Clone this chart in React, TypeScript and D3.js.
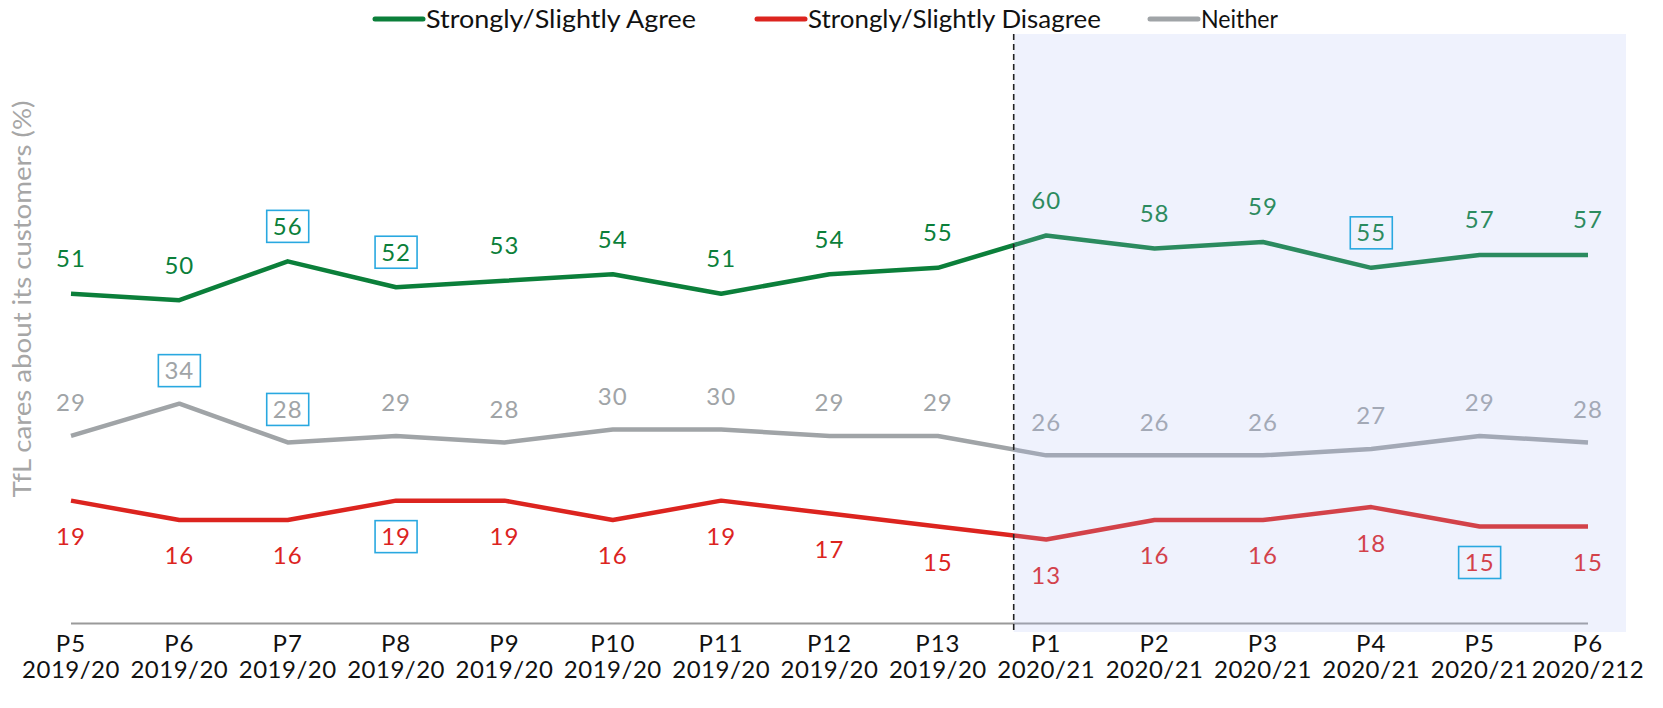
import React from "react";
import * as d3 from "d3";

const periods = ["P5", "P6", "P7", "P8", "P9", "P10", "P11", "P12", "P13", "P1", "P2", "P3", "P4", "P5", "P6"];
const years = [
  "2019/20", "2019/20", "2019/20", "2019/20", "2019/20", "2019/20", "2019/20", "2019/20", "2019/20",
  "2020/21", "2020/21", "2020/21", "2020/21", "2020/21", "2020/212",
];
const agree = [51, 50, 56, 52, 53, 54, 51, 54, 55, 60, 58, 59, 55, 57, 57];
const disagree = [19, 16, 16, 19, 19, 16, 19, 17, 15, 13, 16, 16, 18, 15, 15];
const neither = [29, 34, 28, 29, 28, 30, 30, 29, 29, 26, 26, 26, 27, 29, 28];

// indexes of labels that get a blue box
const boxedAgree = [2, 3, 12];
const boxedDisagree = [3, 13];
const boxedNeither = [1, 2];

const W = 1663;
const H = 708;
const FONT = "Lato, 'Open Sans', sans-serif";

const GREEN = "#0b7f3a";
const RED = "#dc241f";
const GREY = "#a0a4a7";
const BOX = "#29a8e0";

export default function App() {
  const idx = periods.map((_, i) => i);
  const x = d3.scalePoint<number>().domain(idx).range([71, 1588]);
  const y = d3.scaleLinear().domain([0, 60]).range([623.5, 235.5]);
  const step = x.step();
  const splitX = x(8)! + step * 0.7;

  const line = d3
    .line<number>()
    .x((_, i) => x(i)!)
    .y((d) => y(d));

  const series = [
    { name: "Strongly/Slightly Agree", values: agree, color: GREEN, dy: -35, boxed: boxedAgree, lx: 373, len: 270 },
    { name: "Strongly/Slightly Disagree", values: disagree, color: RED, dy: 36, boxed: boxedDisagree, lx: 755, len: 293 },
    { name: "Neither", values: neither, color: GREY, dy: -33, boxed: boxedNeither, lx: 1148, len: 77 },
  ];

  return (
    <svg width={W} height={H} style={{ position: "absolute", left: 0, top: 0 }} fontFamily={FONT}>
      <rect width={W} height={H} fill="#fff" />

      {/* legend */}
      {series.map((s) => (
        <g key={s.name} transform={`translate(${s.lx},19)`}>
          <line x1={2} x2={50} y1={0} y2={0} stroke={s.color} strokeWidth={5} strokeLinecap="round" />
          <text x={53} y={0} dy="0.35em" fontSize={25} fill="#111" textLength={s.len} lengthAdjust="spacingAndGlyphs">
            {s.name}
          </text>
        </g>
      ))}

      {/* y axis title */}
      <text
        transform={`translate(31,299) rotate(-90)`}
        textAnchor="middle"
        fontSize={25}
        fill="#a6a6a6"
        textLength={397}
        lengthAdjust="spacingAndGlyphs"
      >
        TfL cares about its customers (%)
      </text>

      {/* x axis */}
      <line x1={x(0)} x2={x(14)} y1={y(0)} y2={y(0)} stroke="#9a9a9a" strokeWidth={2} />
      {idx.map((i) => (
        <g key={i} transform={`translate(${x(i)},0)`} fontSize={24} fill="#111" textAnchor="middle">
          <text y={644} dy="0.35em" letterSpacing={1}>{periods[i]}</text>
          <text y={670} dy="0.35em" letterSpacing={0.5}>{years[i]}</text>
        </g>
      ))}

      {/* lines and labels */}
      {series.map((s) => (
        <g key={s.name}>
          <path d={line(s.values)!} fill="none" stroke={s.color} strokeWidth={4.5} strokeLinejoin="round" />
          {s.values.map((v, i) => (
            <text
              key={i}
              x={x(i)}
              y={y(v) + s.dy}
              dy="0.35em"
              textAnchor="middle"
              fontSize={24}
              letterSpacing={1}
              fill={s.color}
            >
              {v}
            </text>
          ))}
        </g>
      ))}

      {/* shaded period (drawn over the lines, which fades them) */}
      <rect x={splitX} y={34} width={1626 - splitX} height={632 - 34} fill="rgb(175,190,245)" opacity={0.2} />

      {/* boxes round highlighted labels */}
      {series.map((s) =>
        s.boxed.map((i) => (
          <rect
            key={s.name + i}
            x={x(i)! - 21}
            y={y(s.values[i]) + s.dy - 16}
            width={42}
            height={32}
            fill="none"
            stroke={BOX}
            strokeWidth={1.6}
          />
        ))
      )}

      {/* split marker */}
      <line x1={splitX} x2={splitX} y1={34} y2={634} stroke="#222" strokeWidth={1.6} strokeDasharray="6,4" />
    </svg>
  );
}
